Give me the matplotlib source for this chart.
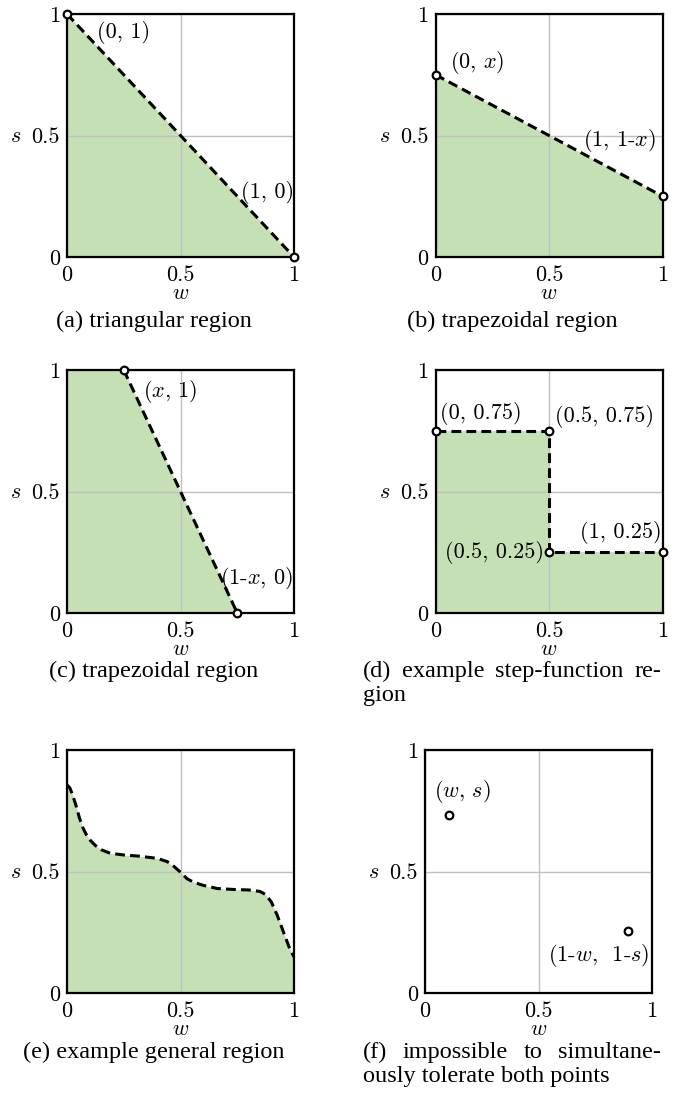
import matplotlib.pyplot as plt

plt.rcParams['mathtext.fontset'] = 'cm'

# tick values shared by all six panels
tick_vals = [0, 0.5, 1]
tick_text = ['0', '0.5', '1']

# (a) triangular region
a_w = [0, 1]
a_s = [1, 0]
# (b) trapezoidal region
b_w = [0, 1]
b_s = [0.75, 0.25]
# (c) trapezoidal region (top edge then the dashed side)
c_w = [0, 0.25, 0.75]
c_s = [1, 1, 0]
# (d) step-function region
d_w = [0, 0.5, 0.5, 1]
d_s = [0.75, 0.75, 0.25, 0.25]
# (e) general region, points read along the boundary
e_w = [0, 0.012, 0.025, 0.04, 0.055, 0.07, 0.085, 0.103, 0.125, 0.15, 0.19, 0.25,
       0.32, 0.397, 0.441, 0.471, 0.5, 0.529, 0.56, 0.6, 0.662, 0.735, 0.8, 0.85,
       0.875, 0.9, 0.926, 0.956, 0.978, 1.0]
e_s = [0.856, 0.845, 0.815, 0.77, 0.72, 0.68, 0.652, 0.628, 0.607, 0.59, 0.575, 0.568,
       0.563, 0.554, 0.541, 0.521, 0.497, 0.47, 0.455, 0.443, 0.43, 0.426, 0.424, 0.418,
       0.405, 0.375, 0.32, 0.245, 0.19, 0.148]
# (f) the two points
f_w = [0.107, 0.893]
f_s = [0.734, 0.256]

captions = ['(a) triangular region', '(b) trapezoidal region', '(c) trapezoidal region',
            '(d) example step-function re-', 'gion', '(e) example general region',
            '(f) impossible to simultane-', 'ously tolerate both points']

green = '#c5e0b4'
W, H = 693, 1093
fig = plt.figure(figsize=(W / 100, H / 100), dpi=100)


def make_axes(left, top, width=227, height=243):
    ax = fig.add_axes([left / W, 1 - (top + height) / H, width / W, height / H])
    ax.set_xlim(0, 1)
    ax.set_ylim(0, 1)
    ax.set_xticks(tick_vals)
    ax.set_yticks(tick_vals)
    ax.set_xticklabels(tick_text, fontfamily='cmr10', fontsize=16)
    ax.set_yticklabels(tick_text, fontfamily='cmr10', fontsize=16)
    ax.tick_params(axis='x', length=0, pad=6)
    ax.tick_params(axis='y', length=0, pad=5)
    ax.grid(True, color='#c0c0c0', lw=1)
    ax.set_axisbelow(False)
    for sp in ax.spines.values():
        sp.set_linewidth(1.6)
        sp.set_zorder(5)
    ax.set_xlabel('$w$', fontsize=16, va='center')
    ax.xaxis.set_label_coords(0.5, -0.148)
    ax.set_ylabel('$s$', fontsize=16, rotation=0, va='center', ha='center')
    ax.yaxis.set_label_coords(-0.225, 0.5)
    return ax


def boundary(ax, w, s, marks=True):
    ax.plot(w, s, color='black', lw=2.2, ls=(0, (3.2, 1.7)), zorder=4)
    if marks:
        ax.plot(w, s, ls='none', marker='o', ms=5.5, mfc='white', mec='black',
                mew=1.6, zorder=6, clip_on=False)


def label(ax, x, y, txt, ha='left'):
    ax.text(x, y, txt, fontfamily='cmr10', fontsize=16, ha=ha, va='center', zorder=7)


def caption(txt, xc, y):
    fig.text(xc / W, 1 - y / H, txt, family='Liberation Serif', fontsize=17.5,
             ha='center', va='baseline')


def justified(txt, x0, x1, y):
    words = txt.split()
    texts = [fig.text(0, 1 - y / H, wd, family='Liberation Serif', fontsize=17.5,
                      va='baseline') for wd in words]
    r = fig.canvas.get_renderer()
    widths = [t.get_window_extent(r).width for t in texts]
    gap = (x1 - x0 - sum(widths)) / (len(words) - 1)
    x = x0
    for t, wd in zip(texts, widths):
        t.set_x(x / W)
        x += wd + gap


def left_line(txt, x0, y):
    fig.text(x0 / W, 1 - y / H, txt, family='Liberation Serif', fontsize=17.5,
             ha='left', va='baseline')


# (a)
ax = make_axes(67, 14)
ax.fill_between(a_w, a_s, color=green, lw=0, zorder=1)
boundary(ax, a_w, a_s)
label(ax, 0.13, 0.925, '(0, 1)')
label(ax, 1.0, 0.265, '(1, 0)', ha='right')

# (b)
ax = make_axes(435.5, 14)
ax.fill_between(b_w, b_s, color=green, lw=0, zorder=1)
boundary(ax, b_w, b_s)
label(ax, 0.063, 0.80, '(0, $x$)')
label(ax, 0.97, 0.48, '(1, 1-$x$)', ha='right')

# (c)
ax = make_axes(67, 370)
ax.fill_between(c_w, c_s, color=green, lw=0, zorder=1)
boundary(ax, c_w[1:], c_s[1:])
label(ax, 0.333, 0.91, '($x$, 1)')
label(ax, 0.674, 0.144, '(1-$x$, 0)')

# (d)
ax = make_axes(435.5, 370)
ax.fill_between(d_w, d_s, color=green, lw=0, zorder=1)
boundary(ax, d_w, d_s)
label(ax, 0.02, 0.82, '(0, 0.75)')
label(ax, 0.525, 0.81, '(0.5, 0.75)')
label(ax, 0.995, 0.33, '(1, 0.25)', ha='right')
label(ax, 0.48, 0.25, '(0.5, 0.25)', ha='right')

# (e)
ax = make_axes(67, 750)
ax.fill_between(e_w, e_s, color=green, lw=0, zorder=1)
boundary(ax, e_w, e_s, marks=False)

# (f)
ax = make_axes(425, 750)
ax.plot(f_w, f_s, ls='none', marker='o', ms=5.5, mfc='white', mec='black',
        mew=1.6, zorder=6)
label(ax, 0.041, 0.83, '$(w,\\,s)$')
label(ax, 0.54, 0.156, '(1-$w$,  1-$s$)')

caption(captions[0], 154, 327)
caption(captions[1], 512, 327)
caption(captions[2], 154, 677)
justified(captions[3], 363, 661, 677)
left_line(captions[4], 363, 701)
caption(captions[5], 154, 1058)
justified(captions[6], 363, 661, 1058)
left_line(captions[7], 363, 1082)

fig.savefig('out.png', dpi=100)
